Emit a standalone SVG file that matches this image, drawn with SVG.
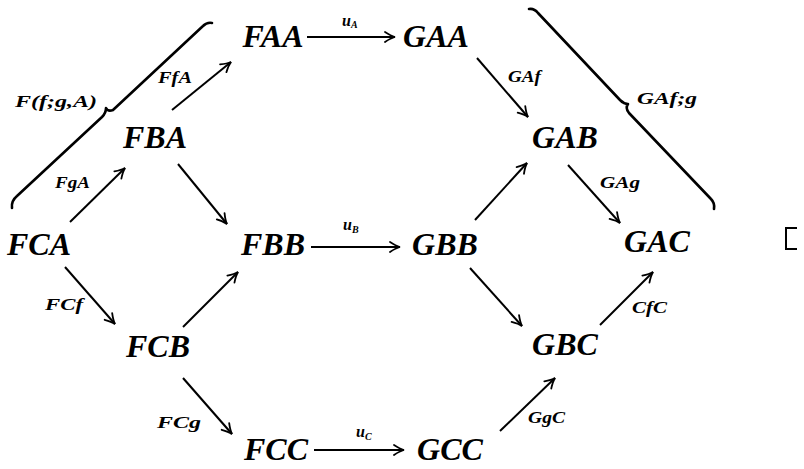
<svg xmlns="http://www.w3.org/2000/svg" width="804" height="469" viewBox="0 0 804 469">
<style>
.n{font-family:"Liberation Serif","Times New Roman",serif;font-weight:bold;font-style:italic;font-size:32px;fill:#000;text-anchor:middle}
.l{font-family:"Liberation Serif","Times New Roman",serif;font-weight:bold;font-style:italic;font-size:16px;fill:#000}
.e{stroke:#000;stroke-width:2;fill:none;marker-end:url(#ah)}
.b{stroke:#000;stroke-width:2.6;fill:none;stroke-linecap:round;stroke-linejoin:round}
</style>
<defs>
<marker id="ah" markerUnits="userSpaceOnUse" markerWidth="14" markerHeight="14" viewBox="-11 -7 13 14" refX="0" refY="0" orient="auto">
<path d="M-10,-5 Q-4,-1 0,0 Q-4,1 -10,5" stroke="#000" stroke-width="1.8" fill="none" stroke-linecap="round"/>
</marker>
</defs>
<rect width="804" height="469" fill="#fff"/>
<g id="connectors">
<line class="e" x1="307" y1="37" x2="395" y2="37"/>
<line class="e" x1="311" y1="247" x2="400" y2="247"/>
<line class="e" x1="314" y1="450" x2="404" y2="450"/>
<line class="e" x1="172" y1="110" x2="231" y2="62"/>
<line class="e" x1="70" y1="222" x2="125" y2="168"/>
<line class="e" x1="178" y1="164" x2="227" y2="224"/>
<line class="e" x1="65" y1="267" x2="115" y2="324"/>
<line class="e" x1="183" y1="327" x2="238" y2="272"/>
<line class="e" x1="183" y1="378" x2="232" y2="434"/>
<line class="e" x1="477" y1="58" x2="528" y2="117"/>
<line class="e" x1="475" y1="220" x2="527" y2="163"/>
<line class="e" x1="568" y1="165" x2="620" y2="223"/>
<line class="e" x1="470" y1="268" x2="522" y2="326"/>
<line class="e" x1="600" y1="325" x2="653" y2="272"/>
<line class="e" x1="500" y1="431" x2="555" y2="378"/>
</g>
<g id="edge-labels">
<text class="l" x="342" y="26" font-size="13">u<tspan font-size="10" dy="2">A</tspan></text>
<text class="l" x="343" y="230" font-size="13">u<tspan font-size="10" dy="3">B</tspan></text>
<text class="l" x="356" y="437" font-size="13">u<tspan font-size="10" dy="3">C</tspan></text>
<text class="l" x="158" y="83" textLength="34" lengthAdjust="spacingAndGlyphs">FfA</text>
<text class="l" x="55" y="188" textLength="35" lengthAdjust="spacingAndGlyphs">FgA</text>
<text class="l" x="45" y="310" textLength="38" lengthAdjust="spacingAndGlyphs">FCf</text>
<text class="l" x="157" y="428" textLength="44" lengthAdjust="spacingAndGlyphs">FCg</text>
<text class="l" x="508" y="82" textLength="33" lengthAdjust="spacingAndGlyphs">GAf</text>
<text class="l" x="600" y="188" textLength="40" lengthAdjust="spacingAndGlyphs">GAg</text>
<text class="l" x="632" y="313" textLength="35" lengthAdjust="spacingAndGlyphs">CfC</text>
<text class="l" x="528" y="423" textLength="37" lengthAdjust="spacingAndGlyphs">GgC</text>
</g>
<g id="braces">
<path class="b" d="M12,208 Q11,201 17,196 L102,117 Q106,113 106,108 Q108,112 113,110 L203,26 Q207,22 212,23"/>
<text class="l" x="15" y="107" textLength="82" lengthAdjust="spacingAndGlyphs">F(f;g,A)</text>
<path class="b" d="M529,9 Q534,8 538,13 L620,100 Q624,104 628,104 Q625,108 629,113 L711,199 Q715,203 714,209"/>
<text class="l" x="637" y="104" textLength="60" lengthAdjust="spacingAndGlyphs">GAf;g</text>
</g>
<g id="FAA"><text class="n" x="273" y="47">FAA</text></g>
<g id="GAA"><text class="n" x="436" y="47">GAA</text></g>
<g id="FBA"><text class="n" x="155" y="148">FBA</text></g>
<g id="GAB"><text class="n" x="565" y="148">GAB</text></g>
<g id="FCA"><text class="n" x="39" y="255">FCA</text></g>
<g id="FBB"><text class="n" x="273" y="255">FBB</text></g>
<g id="GBB"><text class="n" x="445" y="255">GBB</text></g>
<g id="GAC"><text class="n" x="657" y="252">GAC</text></g>
<g id="FCB"><text class="n" x="158" y="357">FCB</text></g>
<g id="GBC"><text class="n" x="565" y="355">GBC</text></g>
<g id="FCC"><text class="n" x="276" y="460">FCC</text></g>
<g id="GCC"><text class="n" x="450" y="460">GCC</text></g>
<g id="qed"><path d="M797,228 H786 V249 H797" stroke="#000" stroke-width="2" fill="none"/></g>
</svg>
